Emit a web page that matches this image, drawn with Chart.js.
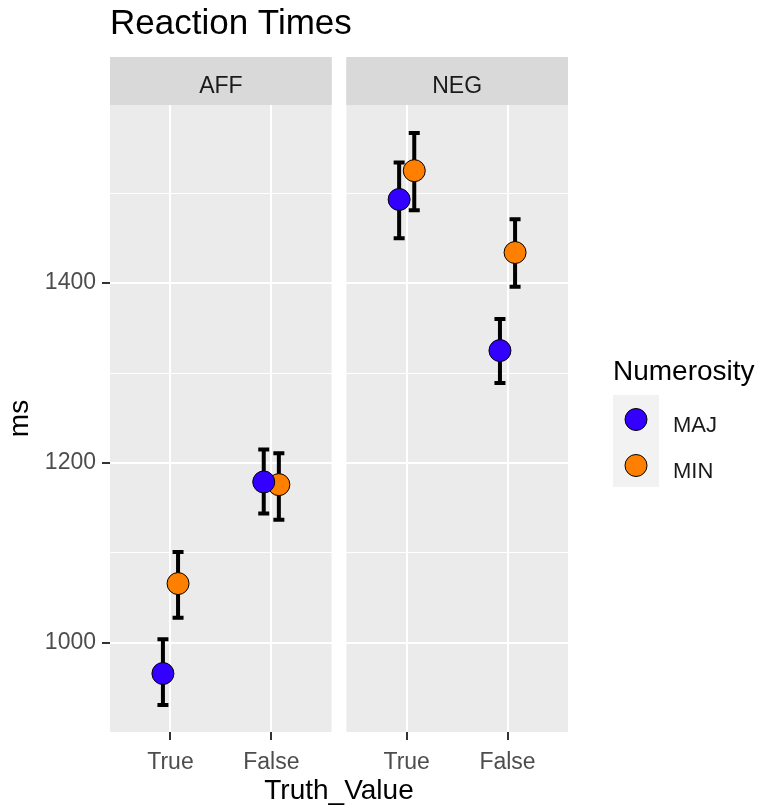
<!DOCTYPE html>
<html>
<head>
<meta charset="utf-8">
<title>Reaction Times</title>
<script src="https://cdn.jsdelivr.net/npm/chart.js@4.4.1/dist/chart.umd.min.js"></script>
<style>
  html, body { margin: 0; padding: 0; background: #fff; }
  #chart { display: block; }
</style>
</head>
<body>
<canvas id="chart" width="762" height="810"></canvas>
<script>
// ================================ data =============================
var panels = ["AFF", "NEG"];
var truthValues = ["True", "False"];
var groups = ["MAJ", "MIN"];
var groupColors = ["#3300ff", "#ff7f00"];

// order: AFF True, AFF False, NEG True, NEG False
var majMean = [966, 1179, 1493, 1325];
var majLow = [931, 1144, 1450, 1289];
var majHigh = [1004, 1215, 1534, 1360];
var minMean = [1066, 1176, 1525, 1434];
var minLow = [1028, 1137, 1481, 1396];
var minHigh = [1101, 1211, 1567, 1471];

var yGridValues = [1000, 1100, 1200, 1300, 1400, 1500];
var yTickLabels = [1000, 1200, 1400];

// ================================ layout helpers =============================
var FONT = '"Liberation Sans", Arial, sans-serif';
var panelSpan = 2.2; // 2 levels + 0.6 expansion on each side
var panelGap = 0.143;
var dodge = 0.075;

function panelStart(p) {
  return 0.4 + p * (panelSpan + panelGap);
}
function catX(p, c) {
  return panelStart(p) + 0.6 + c;
}
function buildPoints(mean, low, high, shift) {
  return mean.map(function (m, i) {
    var p = Math.floor(i / truthValues.length);
    var c = i % truthValues.length;
    return { x: catX(p, c) + shift, y: m, low: low[i], high: high[i] };
  });
}

var xTickValues = [];
panels.forEach(function (name, p) {
  truthValues.forEach(function (t, c) {
    xTickValues.push(catX(p, c));
  });
});

// ================================ facet / errorbar / legend plugin =============================
var facetPlugin = {
  id: "facets",
  beforeDraw: function (chart) {
    var ctx = chart.ctx, area = chart.chartArea, x = chart.scales.x;
    ctx.save();
    panels.forEach(function (name, p) {
      var left = x.getPixelForValue(panelStart(p));
      var right = x.getPixelForValue(panelStart(p) + panelSpan);
      ctx.fillStyle = "#ebebeb";
      ctx.fillRect(left, area.top, right - left, area.bottom - area.top);
      ctx.fillStyle = "#d9d9d9";
      ctx.fillRect(left, area.top - 48, right - left, 48);
      ctx.fillStyle = "#1a1a1a";
      ctx.font = "23px " + FONT;
      ctx.textAlign = "center";
      ctx.textBaseline = "alphabetic";
      ctx.fillText(name, (left + right) / 2, area.top - 12);
    });
    ctx.fillStyle = "#000";
    ctx.font = "35px " + FONT;
    ctx.textAlign = "left";
    ctx.fillText("Reaction Times", area.left, 34);
    ctx.restore();
  },
  beforeDatasetsDraw: function (chart) {
    var ctx = chart.ctx, area = chart.chartArea;
    var x = chart.scales.x, y = chart.scales.y;
    ctx.save();
    // white strip between the two panels
    var gapL = x.getPixelForValue(panelStart(0) + panelSpan);
    var gapR = x.getPixelForValue(panelStart(1));
    ctx.fillStyle = "#fff";
    ctx.fillRect(gapL, area.top, gapR - gapL, area.bottom - area.top);

    // error bars
    ctx.strokeStyle = "#000";
    ctx.lineWidth = 4;
    ctx.lineCap = "butt";
    chart.data.datasets.forEach(function (ds) {
      ds.data.forEach(function (pt) {
        var px = x.getPixelForValue(pt.x);
        var yl = y.getPixelForValue(pt.low);
        var yh = y.getPixelForValue(pt.high);
        ctx.beginPath();
        ctx.moveTo(px, yh);
        ctx.lineTo(px, yl);
        ctx.moveTo(px - 5.5, yh);
        ctx.lineTo(px + 5.5, yh);
        ctx.moveTo(px - 5.5, yl);
        ctx.lineTo(px + 5.5, yl);
        ctx.stroke();
      });
    });
    ctx.restore();
  },
  afterDraw: function (chart) {
    var ctx = chart.ctx, area = chart.chartArea;
    var lx = area.right + 45;
    ctx.save();
    ctx.fillStyle = "#000";
    ctx.font = "28px " + FONT;
    ctx.textAlign = "left";
    ctx.textBaseline = "alphabetic";
    ctx.fillText("Numerosity", lx, 380);

    ctx.fillStyle = "#f2f2f2";
    ctx.fillRect(lx, 395, 46, 46 * groups.length);
    groups.forEach(function (g, i) {
      var cy = 419.5 + i * 46;
      ctx.beginPath();
      ctx.arc(lx + 23, cy, 11, 0, Math.PI * 2);
      ctx.fillStyle = groupColors[i];
      ctx.fill();
      ctx.lineWidth = 1;
      ctx.strokeStyle = "#000";
      ctx.stroke();
      ctx.fillStyle = "#1a1a1a";
      ctx.font = "22px " + FONT;
      ctx.fillText(g, lx + 60, cy + 12);
    });
    ctx.restore();
  },
};

// ================================ chart =============================
Chart.defaults.font.family = FONT;

var ctx = document.getElementById("chart").getContext("2d");
var chart = new Chart(ctx, {
  type: "scatter",
  data: {
    datasets: [
      {
        label: groups[0],
        data: buildPoints(majMean, majLow, majHigh, -dodge),
        backgroundColor: groupColors[0],
        borderColor: "#000",
        borderWidth: 1,
        pointRadius: 11,
        pointHoverRadius: 11,
      },
      {
        label: groups[1],
        data: buildPoints(minMean, minLow, minHigh, dodge),
        backgroundColor: groupColors[1],
        borderColor: "#000",
        borderWidth: 1,
        pointRadius: 11,
        pointHoverRadius: 11,
      },
    ],
  },
  options: {
    responsive: false,
    animation: false,
    devicePixelRatio: 1,
    layout: { padding: { top: 105, right: 194, bottom: 0, left: 0 } },
    plugins: {
      legend: { display: false },
      tooltip: { enabled: false },
      title: { display: false },
    },
    scales: {
      x: {
        type: "linear",
        min: panelStart(0),
        max: panelStart(panels.length - 1) + panelSpan,
        afterBuildTicks: function (scale) {
          scale.ticks = xTickValues.map(function (v) {
            return { value: v };
          });
        },
        afterFit: function (scale) {
          scale.height = 78;
        },
        border: { display: false },
        grid: {
          color: "#ffffff",
          lineWidth: 2,
          drawTicks: true,
          tickLength: 8,
          tickColor: "#333333",
          tickWidth: 2,
        },
        ticks: {
          autoSkip: false,
          maxRotation: 0,
          padding: 9,
          color: "#4d4d4d",
          font: { size: 23 },
          callback: function (value, index) {
            return truthValues[index % truthValues.length];
          },
        },
        title: {
          display: true,
          text: "Truth_Value",
          color: "#000",
          font: { size: 28 },
          padding: { top: 0, bottom: 2 },
        },
      },
      y: {
        type: "linear",
        min: 901,
        max: 1598,
        afterBuildTicks: function (scale) {
          scale.ticks = yGridValues.map(function (v) {
            return { value: v };
          });
        },
        afterFit: function (scale) {
          scale.width = 110;
        },
        border: { display: false },
        grid: {
          color: "#ffffff",
          lineWidth: function (c) {
            return c.tick && yTickLabels.indexOf(c.tick.value) >= 0 ? 2 : 1;
          },
          drawTicks: true,
          tickLength: 8,
          tickWidth: 2,
          tickColor: function (c) {
            return c.tick && yTickLabels.indexOf(c.tick.value) >= 0 ? "#333333" : "rgba(0,0,0,0)";
          },
        },
        ticks: {
          padding: 6,
          color: "#4d4d4d",
          font: { size: 23 },
          callback: function (value) {
            return yTickLabels.indexOf(value) >= 0 ? String(value) : "";
          },
        },
        title: {
          display: true,
          text: "ms",
          color: "#000",
          font: { size: 28 },
          padding: { top: 3, bottom: 0 },
        },
      },
    },
  },
  plugins: [facetPlugin],
});
</script>
</body>
</html>
